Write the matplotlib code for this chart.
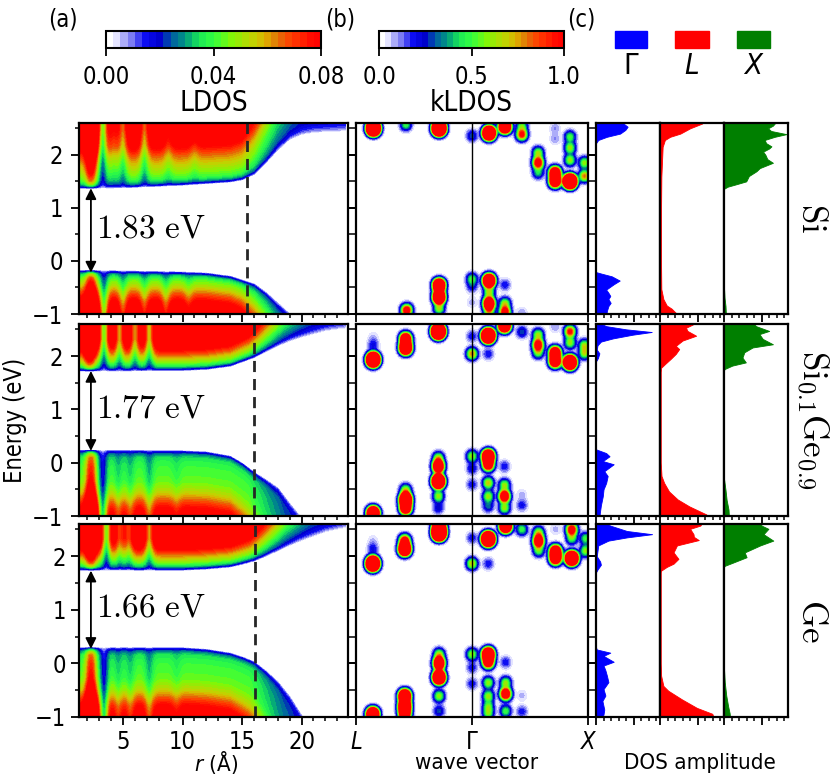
import numpy as np
import matplotlib
matplotlib.use("Agg")
import matplotlib.pyplot as plt
from matplotlib.colors import LinearSegmentedColormap
from matplotlib.ticker import MultipleLocator
from matplotlib.patches import Rectangle

# -----------------------------------------------------------------------------
# Datos
# -----------------------------------------------------------------------------

row_labels = [r'$\mathrm{Si}$', r'$\mathrm{Si}_{0.1}\mathrm{Ge}_{0.9}$', r'$\mathrm{Ge}$']
gap_labels = [r'$1.83\ \mathrm{eV}$', r'$1.77\ \mathrm{eV}$', r'$1.66\ \mathrm{eV}$']
gap_vb = [-0.22, 0.22, 0.27]       # punta inferior de la flecha
gap_cb = [1.37, 1.72, 1.73]        # punta superior de la flecha
nc_radius = [15.4, 16.0, 16.1]     # linea discontinua (A)
r_end = 23.7                       # ultimo radio con datos

# bordes de banda (eV) en funcion de r (A)
edge_r = [1.3, 5, 10, 12, 14, 15, 16, 17, 18, 19, 20, 21, 22, 23, 24]
cb_si = [1.36, 1.37, 1.42, 1.45, 1.48, 1.52, 1.62, 1.84, 2.08, 2.28, 2.37, 2.41, 2.42, 2.43, 2.44]
vb_si = [-0.17, -0.18, -0.20, -0.22, -0.28, -0.35, -0.42, -0.58, -0.78, -0.98, -1.2, -1.4, -1.6, -1.8, -2.0]
cb_sige = [1.71, 1.71, 1.72, 1.74, 1.80, 1.88, 1.96, 2.07, 2.18, 2.27, 2.34, 2.40, 2.46, 2.49, 2.52]
vb_sige = [0.24, 0.24, 0.23, 0.21, 0.13, 0.0, -0.17, -0.31, -0.46, -0.75, -1.02, -1.3, -1.6, -1.9, -2.2]
cb_ge = [1.73, 1.73, 1.73, 1.75, 1.79, 1.84, 1.90, 1.99, 2.09, 2.19, 2.28, 2.36, 2.44, 2.49, 2.53]
vb_ge = [0.30, 0.30, 0.30, 0.27, 0.20, 0.13, 0.04, -0.13, -0.33, -0.60, -0.95, -1.3, -1.6, -1.9, -2.2]

# ensanchamiento del borde y envolvente cerca de la superficie
soft_r = [1.3, 14, 17, 20, 24]
soft_w = [1.0, 1.0, 1.2, 1.4, 1.5]
env_dr = [-20, -0.5, 1.0, 2.5, 4.5, 8.0]
env_v = [1.0, 1.0, 0.8, 0.62, 0.5, 0.45]

# perfil en profundidad dentro de la banda (LDOS)
depth = [0, 0.03, 0.08, 0.15, 0.3, 0.45, 0.6, 0.8, 1.1, 1.4, 3.5]
dc_si = [0, 0.015, 0.03, 0.04, 0.05, 0.058, 0.068, 0.085, 0.1, 0.1, 0.1]
dv_si = [0, 0.015, 0.032, 0.042, 0.055, 0.07, 0.085, 0.1, 0.1, 0.1, 0.1]
dc_sige = [0, 0.015, 0.033, 0.045, 0.065, 0.085, 0.1, 0.1, 0.1, 0.1, 0.1]
dv_sige = [0, 0.015, 0.028, 0.036, 0.04, 0.042, 0.045, 0.055, 0.08, 0.095, 0.1]
dc_ge = [0, 0.015, 0.033, 0.045, 0.065, 0.085, 0.1, 0.1, 0.1, 0.1, 0.1]
dv_ge = [0, 0.015, 0.028, 0.036, 0.04, 0.042, 0.045, 0.055, 0.08, 0.095, 0.1]

# oscilaciones radiales (posicion, amplitud relativa)
cbm_pos_si = [2.3, 3.3, 4.2, 5.0, 6.8, 8.8, 11.0]
cbm_amp_si = [0.6, -0.55, -0.2, -0.35, -0.35, -0.15, -0.1]
vbm_pos_si = [2.3, 3.4, 5.0, 6.8, 8.6, 10.5]
vbm_amp_si = [0.6, -0.5, -0.3, -0.25, -0.25, -0.15]
cbm_pos_sige = [2.2, 3.4, 4.7, 6.0, 7.2]
cbm_amp_sige = [0.5, -0.55, -0.4, -0.4, -0.45]
vbm_pos_sige = [2.3, 3.3, 4.6, 5.6, 7.2, 9.5]
vbm_amp_sige = [0.8, -0.6, -0.2, -0.2, -0.25, -0.1]
cbm_pos_ge = [2.3, 3.6, 4.7, 5.5, 7.2]
cbm_amp_ge = [0.5, -0.55, -0.3, -0.3, -0.4]
vbm_pos_ge = [2.3, 3.4, 4.6, 5.6, 7.2, 9.5]
vbm_amp_ge = [0.8, -0.6, -0.2, -0.2, -0.25, -0.1]

# manchas del kLDOS: k (L=0, Gamma=1, X=2), energia, amplitud
kb_si = [0.15, 0.43, 0.716, 1.0, 1.147, 1.284, 1.43, 1.43, 1.57, 1.57, 1.57, 1.716, 1.716,
         1.716, 1.716, 1.845, 1.845, 1.845, 1.845, 1.97, 1.97,
         0.437, 0.716, 0.716, 0.716, 1.0, 1.0, 1.0, 1.147, 1.147, 1.147, 1.147, 1.284, 1.284,
         1.284, 1.43]
eb_si = [2.50, 2.57, 2.50, 2.36, 2.41, 2.53, 2.55, 2.38, 2.04, 1.85, 1.66, 2.5, 2.3,
         1.66, 1.50, 2.34, 2.13, 1.9, 1.50, 1.85, 1.6,
         -0.93, -0.46, -0.68, -0.9, -0.34, -0.49, -0.78, -0.37, -0.59, -0.8, -0.96, -0.45, -0.8,
         -0.97, -0.98]
ab_si = [6, 0.5, 6, 0.3, 4, 3, 0.5, 1.0, 0.6, 1.2, 0.4, 0.1, 0.1,
         2, 2, 0.5, 0.6, 0.6, 5, 0.6, 0.8,
         1.2, 3, 3, 0.6, 0.5, 0.2, 0.08, 3, 0.6, 2, 0.6, 0.2, 0.6,
         1.2, 0.1]

kb_sige = [0.148, 0.148, 0.148, 0.428, 0.428, 0.71, 1.0, 1.0, 1.14, 1.14, 1.28, 1.43, 1.57,
           1.57, 1.57, 1.716, 1.716, 1.716, 1.845, 1.845, 1.845, 1.97, 1.97,
           1.0, 1.0, 1.0, 0.71, 0.71, 0.71, 0.71, 0.71, 0.428, 0.428, 0.428, 0.148, 1.14,
           1.14, 1.14, 1.14, 1.14, 1.28, 1.28, 1.28, 1.28, 1.43, 1.43]
eb_sige = [1.93, 2.21, 2.36, 2.32, 2.15, 2.46, 2.37, 2.04, 2.04, 2.38, 2.57, 2.45, 2.40,
           2.21, 2.06, 2.55, 2.06, 1.9, 2.46, 2.25, 1.88, 2.2, 2.05,
           0.12, -0.11, -0.41, 0.09, -0.07, -0.35, -0.63, -0.85, -0.51, -0.69, -0.85, -0.95, 0.12,
           -0.04, -0.38, -0.63, -0.82, -0.07, -0.42, -0.63, -0.85, -0.6, -0.8]
ab_sige = [5, 0.2, 0.06, 2, 3, 6, 0.2, 0.8, 0.2, 5, 3, 0.3, 0.6,
           1.2, 0.5, 0.1, 2, 2, 1.0, 0.6, 4, 0.6, 0.6,
           0.6, 0.25, 0.2, 0.6, 2, 4, 0.6, 0.25, 0.6, 3, 2, 3.5, 3,
           1.5, 0.7, 0.6, 0.3, 0.2, 0.6, 1.5, 0.6, 0.08, 0.2]

kb_ge = [0.145, 0.145, 0.145, 0.42, 0.42, 0.716, 0.716, 1.0, 1.0, 1.14, 1.14, 1.29, 1.43,
         1.574, 1.574, 1.574, 1.72, 1.72, 1.72, 1.86, 1.86, 1.86, 1.98, 1.98,
         1.0, 1.0, 1.0, 1.14, 1.14, 1.14, 1.14, 1.14, 1.14, 1.29, 1.29, 1.29, 1.29, 1.43,
         1.43, 0.716, 0.716, 0.716, 0.716, 0.716, 0.42, 0.42, 0.42, 0.145]
eb_ge = [1.86, 2.14, 2.30, 2.29, 2.13, 2.43, 2.55, 2.34, 1.86, 1.86, 2.32, 2.56, 2.5,
         2.44, 2.28, 2.1, 2.5, 2.09, 1.96, 2.5, 2.33, 1.96, 2.33, 2.1,
         0.17, -0.08, -0.38, 0.17, 0.02, -0.36, -0.61, -0.8, -0.94, 0.02, -0.36, -0.57, -0.89, -0.6,
         -0.9, 0.17, 0.0, -0.26, -0.61, -0.89, -0.61, -0.8, -0.95, -0.95]
ab_ge = [5, 0.2, 0.06, 1.2, 3, 6, 3, 0.2, 0.7, 0.2, 5, 3, 0.5,
         0.6, 1.5, 0.5, 0.08, 2, 2, 1.2, 0.5, 4, 0.5, 0.6,
         0.6, 0.2, 0.2, 3, 1.5, 0.6, 0.6, 0.5, 0.5, 0.2, 0.6, 1.5, 0.5, 0.08,
         0.2, 0.6, 2, 3.5, 0.6, 0.3, 3, 3, 2, 3.5]

# DOS proyectada (energia, amplitud) para Gamma, L, X
dos_e_si_g = [-1, -0.94, -0.85, -0.79, -0.72, -0.66, -0.6, -0.54, -0.44, -0.37, -0.29, -0.24, -0.21,
              2.22, 2.28, 2.34, 2.4, 2.47, 2.53, 2.59, 2.6]
dos_v_si_g = [0.28, 0.29, 0.33, 0.39, 0.33, 0.38, 0.33, 0.27, 0.47, 0.63, 0.42, 0.15, 0,
              0, 0.06, 0.29, 0.64, 0.78, 0.84, 0.73, 0.72]
dos_e_si_l = [-1, -0.9, -0.84, -0.72, -0.53, 0, 1.0, 1.59, 2.15, 2.28, 2.34, 2.4, 2.5, 2.59, 2.6]
dos_v_si_l = [0.45, 0.31, 0.18, 0.09, 0.035, 0.027, 0.028, 0.036, 0.07, 0.13, 0.27, 0.54, 0.8, 1.12, 1.13]
dos_e_si_x = [-1, -0.85, -0.7, -0.5, 1.36, 1.4, 1.45, 1.5, 1.6, 1.69, 1.75, 1.85, 1.92, 2.0, 2.06,
              2.12, 2.16, 2.22, 2.28, 2.34, 2.39, 2.45, 2.5, 2.55, 2.6]
dos_v_si_x = [0.05, 0.04, 0.015, 0, 0, 0.1, 0.35, 0.59, 0.66, 0.86, 0.95, 1.3, 1.15, 1.1, 1.04,
              1.2, 1.26, 1.12, 1.08, 1.35, 1.66, 1.25, 1.17, 1.3, 1.36]

dos_e_sige_g = [-1, -0.95, -0.8, -0.63, -0.5, -0.38, -0.25, -0.16, -0.03, 0.03, 0.12, 0.18, 0.25,
                1.9, 1.96, 2.05, 2.12, 2.2, 2.27, 2.33, 2.4, 2.45, 2.5, 2.56, 2.6]
dos_v_sige_g = [0.1, 0.1, 0.13, 0.18, 0.2, 0.27, 0.31, 0.22, 0.47, 0.18, 0.36, 0.27, 0,
                0, 0.05, 0.09, 0.02, 0.04, 0.13, 0.45, 0.98, 1.48, 0.8, 0.27, 0.15]
dos_e_sige_l = [-1, -0.97, -0.91, -0.82, -0.69, -0.54, -0.38, -0.25, 0, 1.7, 1.78, 1.86, 1.95,
                2.04, 2.13, 2.19, 2.29, 2.38, 2.47, 2.53, 2.59, 2.6]
dos_v_sige_l = [1.25, 1.23, 1.05, 0.78, 0.47, 0.24, 0.11, 0.04, 0.02, 0.02, 0.03, 0.15, 0.29,
                0.42, 0.51, 0.42, 0.6, 0.96, 0.73, 0.69, 0.87, 0.88]
dos_e_sige_x = [-1, -0.88, -0.7, -0.51, -0.3, 1.74, 1.76, 1.82, 1.88, 1.97, 2.07, 2.16, 2.22,
                2.32, 2.41, 2.47, 2.56, 2.6]
dos_v_sige_x = [0.13, 0.12, 0.07, 0.04, 0, 0, 0.03, 0.22, 0.58, 0.49, 0.54, 0.76, 1.3,
                1.03, 0.94, 1.2, 0.85, 0.8]

dos_e_ge_g = [-1, -0.95, -0.86, -0.7, -0.6, -0.48, -0.35, -0.23, -0.13, -0.04, 0.03, 0.14, 0.2,
              0.26, 0.3, 1.7, 1.75, 1.84, 1.9, 2.0, 2.2, 2.29, 2.35, 2.41, 2.47, 2.57, 2.6]
dos_v_ge_g = [0.18, 0.2, 0.22, 0.17, 0.25, 0.2, 0.33, 0.29, 0.25, 0.2, 0.47, 0.2, 0.38,
              0.02, 0, 0, 0.04, 0.13, 0.11, 0.02, 0.06, 0.33, 0.82, 1.49, 0.82, 0.38, 0.3]
dos_e_ge_l = [-1, -0.94, -0.83, -0.67, -0.51, -0.42, -0.23, 0, 1.7, 1.73, 1.8, 1.86, 1.95,
              2.07, 2.2, 2.3, 2.36, 2.41, 2.51, 2.57, 2.6]
dos_v_ge_l = [1.42, 1.39, 0.98, 0.58, 0.22, 0.09, 0.03, 0.02, 0.02, 0.03, 0.18, 0.36, 0.49,
              0.36, 0.45, 1.03, 0.9, 0.89, 0.8, 1.07, 1.1]
dos_e_ge_x = [-1, -0.93, -0.8, -0.6, -0.35, -0.1, 1.8, 1.82, 1.88, 1.98, 2.07, 2.2, 2.29,
              2.41, 2.51, 2.57, 2.6]
dos_v_ge_x = [0.16, 0.15, 0.11, 0.06, 0.02, 0, 0, 0.02, 0.24, 0.6, 0.55, 0.96, 1.31,
              1.05, 1.18, 1.0, 0.98]

# agrupacion por fila (Si, SiGe, Ge)
cb_edges = [cb_si, cb_sige, cb_ge]
vb_edges = [vb_si, vb_sige, vb_ge]
dc_prof = [dc_si, dc_sige, dc_ge]
dv_prof = [dv_si, dv_sige, dv_ge]
cbm_pos = [cbm_pos_si, cbm_pos_sige, cbm_pos_ge]
cbm_amp = [cbm_amp_si, cbm_amp_sige, cbm_amp_ge]
vbm_pos = [vbm_pos_si, vbm_pos_sige, vbm_pos_ge]
vbm_amp = [vbm_amp_si, vbm_amp_sige, vbm_amp_ge]
blobs = [(kb_si, eb_si, ab_si), (kb_sige, eb_sige, ab_sige), (kb_ge, eb_ge, ab_ge)]
dos_rows = [
    [(dos_e_si_g, dos_v_si_g), (dos_e_si_l, dos_v_si_l), (dos_e_si_x, dos_v_si_x)],
    [(dos_e_sige_g, dos_v_sige_g), (dos_e_sige_l, dos_v_sige_l), (dos_e_sige_x, dos_v_sige_x)],
    [(dos_e_ge_g, dos_v_ge_g), (dos_e_ge_l, dos_v_ge_l), (dos_e_ge_x, dos_v_ge_x)],
]
dos_colors = ['#0000ff', '#ff0000', '#007f00']

# -----------------------------------------------------------------------------
# Estilo
# -----------------------------------------------------------------------------

plt.rcParams['font.family'] = ['DejaVu Sans']
plt.rcParams['font.stretch'] = 'condensed'
plt.rcParams['font.size'] = 17
plt.rcParams['axes.linewidth'] = 1.6

cmap = LinearSegmentedColormap.from_list('wbgyr', [
    (0.0, (1, 1, 1)), (0.035, (1, 1, 1)), (0.05, (0.87, 0.87, 1)),
    (0.12, (0.45, 0.45, 0.95)), (0.18, (0.05, 0.05, 0.95)), (0.25, (0, 0, 0.8)),
    (0.30, (0, 0.35, 0.65)), (0.37, (0, 0.6, 0.5)), (0.43, (0.1, 0.9, 0.35)),
    (0.50, (0.2, 1, 0.25)), (0.58, (0.5, 0.97, 0.03)), (0.70, (0.8, 0.8, 0)),
    (0.76, (0.88, 0.62, 0)), (0.80, (0.88, 0.45, 0.03)), (0.86, (1, 0.25, 0)),
    (0.95, (1, 0.05, 0)), (1.0, (1, 0, 0))])

W, H = 830, 778


def caja(fig, x0, y0, x1, y1):
    "Crea ejes usando coordenadas en pixeles (origen arriba a la izquierda)"
    return fig.add_axes([x0 / W, 1 - y1 / H, (x1 - x0) / W, (y1 - y0) / H])


def modulacion(r, pos, amp):
    s = np.ones_like(r)
    for p, a in zip(pos, amp):
        s += a * np.exp(-0.5 * ((r - p) / 0.3) ** 2)
    return s


def campo_ldos(i, r, e):
    ec = np.interp(r, edge_r, cb_edges[i])
    ev = np.interp(r, edge_r, vb_edges[i])
    w = np.interp(r, soft_r, soft_w)
    env = np.interp(r - nc_radius[i], env_dr, env_v)
    sc = modulacion(r, cbm_pos[i], cbm_amp[i]) * env
    sv = modulacion(r, vbm_pos[i], vbm_amp[i]) * env
    R, E = np.meshgrid(r, e)
    dc = (E - ec[None, :]) / w[None, :]
    dv = (ev[None, :] - E) / w[None, :]
    z = np.interp(dc, depth, dc_prof[i], left=0) * sc[None, :]
    z += np.interp(dv, depth, dv_prof[i], left=0) * sv[None, :]
    z[:, r > r_end] = 0
    return np.clip(z, 0, 0.0799)


def campo_kldos(i, k, e):
    K, E = np.meshgrid(k, e)
    z = np.zeros_like(K)
    for kb, eb, ab in zip(*blobs[i]):
        z += ab * np.exp(-0.5 * ((K - kb) / 0.031) ** 2 - 0.5 * ((E - eb) / 0.074) ** 2)
    return np.clip(z, 0, 0.999)


def ticks(ax, left=True, right=True):
    ax.tick_params(which='both', direction='out', top=False, bottom=True,
                   left=left, right=right, labelleft=False, labelbottom=False)
    ax.tick_params(which='major', length=5.5, width=1.3, pad=6)
    ax.tick_params(which='minor', length=3, width=1.1)


# -----------------------------------------------------------------------------
# Figura
# -----------------------------------------------------------------------------

fig = plt.figure(figsize=(8.3, 7.78), dpi=100)

row_y = [(123, 314), (324, 516), (524, 717)]
r = np.linspace(1.3, 24.0, 460)
e = np.linspace(-1.0, 2.6, 420)
k = np.linspace(0, 2, 420)
lv_ldos = np.linspace(0, 0.08, 31)
lv_k = np.linspace(0, 1.0, 31)

for i, (y0, y1) in enumerate(row_y):
    last = i == 2

    # (a) LDOS
    ax = caja(fig, 79, y0, 348, y1)
    cs_ldos = ax.contourf(r, e, campo_ldos(i, r, e), levels=lv_ldos, cmap=cmap)
    ax.axvline(nc_radius[i], color='0.15', ls=(0, (4, 2.5)), lw=2)
    ax.annotate('', xy=(2.3, gap_cb[i]), xytext=(2.3, gap_vb[i]),
                arrowprops=dict(arrowstyle='<|-|>', color='k', lw=1.3, mutation_scale=16,
                                shrinkA=0, shrinkB=0))
    ax.text(2.75, (gap_cb[i] + gap_vb[i]) / 2 + 0.05, gap_labels[i], fontsize=24,
            math_fontfamily='cm', va='center', ha='left')
    ax.set_xlim(1.3, 23.9)
    ax.set_ylim(-1, 2.6)
    ax.xaxis.set_major_locator(MultipleLocator(5))
    ax.xaxis.set_minor_locator(MultipleLocator(1))
    ax.yaxis.set_major_locator(MultipleLocator(1))
    ax.yaxis.set_minor_locator(MultipleLocator(0.5))
    ticks(ax)
    ax.tick_params(labelleft=True)
    if last:
        ax.tick_params(labelbottom=True, pad=4)
        ax.set_xticks([5, 10, 15, 20])

    # (b) kLDOS
    ax = caja(fig, 356, y0, 588, y1)
    cs_k = ax.contourf(k, e, campo_kldos(i, k, e), levels=lv_k, cmap=cmap)
    ax.axvline(1.0, color='k', lw=1.0)
    ax.set_xlim(0, 2)
    ax.set_ylim(-1, 2.6)
    ax.set_xticks([0, 1, 2])
    ax.yaxis.set_major_locator(MultipleLocator(1))
    ax.yaxis.set_minor_locator(MultipleLocator(0.5))
    ticks(ax)
    if last:
        ax.tick_params(labelbottom=True, pad=4)
        ax.set_xticklabels(['L', 'Γ', 'X'])
        for lbl, st in zip(ax.get_xticklabels(), ['italic', 'normal', 'italic']):
            lbl.set_fontstyle(st)

    # (c) DOS en Gamma, L, X
    for j, (xa, xb) in enumerate([(596, 660), (660, 724), (724, 788)]):
        ax = caja(fig, xa, y0, xb, y1)
        ev_, vv_ = dos_rows[i][j]
        ax.fill_betweenx(ev_, 0, vv_, color=dos_colors[j], lw=0.6)
        ax.set_xlim(0, 1.7)
        ax.set_ylim(-1, 2.6)
        ax.xaxis.set_major_locator(MultipleLocator(1))
        ax.xaxis.set_minor_locator(MultipleLocator(0.2))
        ax.yaxis.set_major_locator(MultipleLocator(1))
        ax.yaxis.set_minor_locator(MultipleLocator(0.5))
        ticks(ax, left=(j == 0), right=False)

    fig.text(812 / W, 1 - (y0 + y1) / 2 / H, row_labels[i], rotation=270, fontsize=25,
             math_fontfamily='cm', ha='center', va='center')

fig.text(15 / W, 1 - 420 / H, 'Energy (eV)', rotation=90, ha='center', va='center')
fig.text(216 / W, 1 - 762 / H, r'$r$ (Å)', fontsize=16, ha='center', va='center')
fig.text(477 / W, 1 - 763 / H, 'wave vector', fontsize=16, ha='center', va='center')
fig.text(700 / W, 1 - 763 / H, 'DOS amplitude', fontsize=16, ha='center', va='center')

# barras de color
cax = caja(fig, 106, 31, 321, 48)
cb = fig.colorbar(cs_ldos, cax=cax, orientation='horizontal', ticks=[0, 0.04, 0.08])
cb.ax.set_xticklabels(['0.00', '0.04', '0.08'])
cb.set_label('LDOS', fontsize=20, labelpad=0)
cb.outline.set_linewidth(1.5)
cb.ax.tick_params(direction='out', length=5.5, width=1.3, pad=7)
cax = caja(fig, 379, 31, 564, 48)
cb = fig.colorbar(cs_k, cax=cax, orientation='horizontal', ticks=[0, 0.5, 1.0])
cb.ax.set_xticklabels(['0.0', '0.5', '1.0'])
cb.set_label('kLDOS', fontsize=20, labelpad=0)
cb.outline.set_linewidth(1.5)
cb.ax.tick_params(direction='out', length=5.5, width=1.3, pad=7)

# leyenda de colores
for (xa, xb), col, txt, st in zip([(615, 647), (675, 709), (737, 770)], dos_colors,
                                  ['Γ', 'L', 'X'], ['normal', 'italic', 'italic']):
    fig.add_artist(Rectangle((xa / W, 1 - 48 / H), (xb - xa) / W, 17 / H,
                             transform=fig.transFigure, color=col))
    fig.text((xa + xb) / 2 / W, 1 - 66 / H, txt, fontsize=21, fontstyle=st,
             ha='center', va='center')

for txt, x in [('(a)', 63), ('(b)', 340), ('(c)', 581)]:
    fig.text(x / W, 1 - 19 / H, txt, ha='center', va='center')

fig.savefig('out.png', dpi=100)
